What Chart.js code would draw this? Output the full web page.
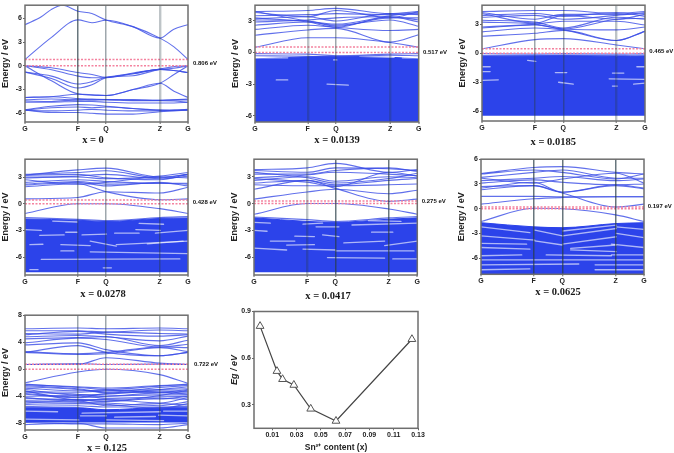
<!DOCTYPE html>
<html><head><meta charset="utf-8">
<style>html,body{margin:0;padding:0;background:#fff;width:674px;height:453px;overflow:hidden}
canvas{position:absolute}</style>
<script src="https://cdn.jsdelivr.net/npm/chart.js@4/dist/chart.umd.js"></script></head><body>
<script>
const kLabels=['G','F','Q','Z','G'];
const egContent=[0,0.0139,0.0185,0.0278,0.0417,0.0625,0.125];
const egValues=[0.806,0.517,0.465,0.428,0.275,0.197,0.722];
const egXTicks=[0.01,0.03,0.05,0.07,0.09,0.11,0.13];
const egYTicks=[0.3,0.6,0.9];

/* bands: 5 values = G,F,Q,Z,G ; 9 values include the midpoints; pairs = [k,E] */
const p1Bands=[
[[0,5.2],[0.1,6.2],[0.16,7.1],[0.23,7.65],[0.325,6.9],[0.41,6.6],[0.497,5.8],[0.66,4.95],[0.828,3.5],[0.91,4.6],[1,5.2]],
[0.8,3.6,5.8,5.45,5.75,4.95,3.5,2.4,0.8],
[0,-0.25,-0.85,-1.1,-1.45,-0.9,-0.4,-0.1,0],[0,-0.5,-1.3,-1.5,-1.5,-1.0,-0.45,-0.6,-0.85],
[-0.8,-1.3,-2.3,-2.0,-1.45,-1.0,-0.45,-0.6,-0.85],[-0.8,-1.6,-2.8,-2.4,-1.5,-1.25,-0.45,-0.3,0],
[0,-1.9,-3.55,-3.65,-3.75,-3,-2.2,-1.1,0],[-4,-3.9,-3.6,-3.7,-3.75,-3,-2.2,-3.2,-4],
[-4,-3.9,-4.15,-4.2,-4.25,-4.3,-4.35,-4.3,-4.2],[-4.3,-4.2,-4.3,-4.25,-4.25,-4.3,-4.35,-4.3,-4.3],
[-4.45,-4.5,-4.3,-4.35,-4.3,-4.4,-4.4,-4.45,-4.6],[-4.6,-4.6,-4.5,-4.5,-4.6,-4.7,-4.7,-4.7,-4.6],
[-5.55,-5.1,-4.9,-4.95,-5.1,-5.4,-5.6,-5.6,-5.55],[-5.6,-5.3,-5.2,-5.3,-5.2,-5.4,-5.6,-5.65,-5.6],
[-5.6,-5.7,-5.6,-5.5,-5.6,-5.7,-5.7,-5.6,-5.5],[-5.6,-5.9,-5.9,-6,-6.1,-6.1,-5.8,-5.7,-5.6]];
const p2Bands=[
[0.5,1.4,1.4,0.95,0.5],[1.65,2.15,2.3,1.0,1.7],[2.2,2.6,2.4,2.1,2.2],[2.6,2.9,2.6,3.1,2.5],
[3.1,3.0,2.5,3.3,3.3],[3.3,2.9,2.4,3.4,3.1],[3.9,3.0,2.7,3.5,3.8],[3.8,3.4,4.0,3.3,3.9],
[3.9,4.0,4.2,3.7,3.9],[3.5,3.6,3.7,3.6,3.7],[2.9,3.1,3.3,3.4,2.9],[3.2,3.4,3.0,3.7,3.6],
[-0.1,-0.15,-0.3,-0.15,-0.1],[-0.3,-0.35,-0.4,-0.25,-0.3]];
const p3Bands=[
[0.45,1.4,1.5,0.85,0.45],[1.75,2.05,2.35,1.3,2.25],[2.2,2.6,2.4,1.3,2.25],[2.6,2.9,2.5,2.4,2.7],
[2.7,3.0,3.3,3.3,2.9],[3.2,3.0,2.5,3.5,3.6],[3.4,3.2,2.6,3.7,3.5],[4.1,3.1,3.9,3.5,4.0],
[4.2,3.5,4.0,4.0,4.1],[4.3,4.4,4.4,4.1,4.3],[3.9,4.1,3.8,4.2,3.8],[3.7,3.9,3.5,3.9,4.2],
[-0.05,-0.1,-0.05,-0.1,-0.05],[-0.25,-0.25,-0.2,-0.25,-0.2]];
const p4Bands=[
[-1.1,0,0,-0.55,-1.1],[0.55,0.7,1.35,1.2,1.85],[1.9,2.25,1.35,0.45,0.55],[2.2,2.5,2.2,2.3,2.2],
[2.4,2.7,2.5,2.3,2.3],[3.2,3.8,4.0,3,3.3],[3.3,3.5,3.7,2.9,3.3],[2.9,3.1,3.3,2.8,3.1],
[3,3,2.8,3.1,3.5],[2.7,2.2,2.4,3,2.9],[2.1,2.4,2.0,2.4,2.0],[3.2,3.3,2.9,2.7,3.3],
[-1.55,-1.75,-1.9,-1.55,-1.45]];
const p5Bands=[
[-1.2,0,0,-0.6,-1.2],[0.5,1.3,1.6,1.1,1.5],[1.6,2.6,1.7,0.25,0.5],[3.8,4.0,4.5,3.5,3.8],
[3.7,3.5,4.0,3.9,3.7],[3.3,3.3,3.7,4.0,3.6],[2.9,3.2,3.5,3.3,3.1],[2.6,3,2.5,3,2.9],
[2.3,2.6,2.1,2.6,2.8],[2.1,2.0,2.0,2.1,2.2],[3.5,2.9,2.3,2.8,3.4],[2.8,2.4,1.9,3.5,3.1],
[-1.5,-1.8,-2,-1.6,-1.45]];
const p6Bands=[
[-1.55,0.05,0,-0.75,-1.55],[0.55,1.2,1.35,1.45,1.45],[2.7,2.8,1.9,0.2,0.55],[4.25,5,5.1,4.4,4.2],
[4.2,4.7,4.4,3.6,4.2],[3.8,4.4,4.7,3.7,3.7],[3.4,3.7,3.9,3.4,3.6],[3.1,3.5,3.2,2.9,3],
[2.5,3.2,2.0,2.9,2.5],[2.3,2.8,2.0,2.8,2.4],[3.7,3.1,3.6,4.3,3.1],[1.5,1.5,1.45,1.45,1.45]];
const p7Bands=[
[-2.0,-0.4,0,-0.8,-2.1],[0.7,0.7,1.7,0.9,0.7],[0.7,0.85,0.7,0.75,0.7],[6,6.1,6,6.1,6],
[5.7,5.7,5.5,5.8,5.7],[5.1,5.6,5.2,4.9,5.1],[4.8,5,4.8,4.2,4.9],[4.5,4.7,4.8,3.5,4.3],
[3.9,4.6,4.4,3.3,3.7],[3.6,3.9,2.9,2.0,2.5],[2.5,3.5,2.5,2,2.5],[2.6,2.3,2.5,3.3,3.2],
[2.5,2.2,2.3,3.2,2.6],[5.3,5.2,5.5,5.3,5.2],
[-2.2,-2.7,-3.0,-2.5,-2.2],[-2.4,-2.9,-3.4,-2.7,-2.4],[-2.6,-3,-3.5,-3,-2.6],[-2.8,-3.2,-3.1,-3.4,-3.0],
[-3,-3.8,-3.7,-3.2,-3.3],[-3.4,-3.7,-4,-3.5,-3.5],[-3.7,-4.2,-4.0,-3.8,-3.8],[-4,-3.9,-4.3,-4.1,-4],
[-4.3,-4.5,-4.5,-5,-4.2],[-4.6,-4.5,-4.8,-4.3,-4.5],[-4.8,-4.9,-5.0,-5.4,-4.8],[-5.2,-5.1,-5.2,-5.8,-5.1],
[-5.5,-5.4,-5.6,-5.6,-5.5],[-3.2,-4.6,-4.7,-3.9,-3.1],[-8.2,-8,-8.7,-8.7,-8.2],[-7.9,-8.1,-8.1,-8.2,-8],
[-2.3,-2.6,-2.8,-2.4,-2.3],[-3.3,-3.4,-3.2,-3.0,-2.9],[-3.6,-4.1,-3.6,-3.4,-3.7],[-4.2,-4.7,-4.4,-4.4,-4.0],
[-5,-4.7,-5.4,-5.1,-5.3]];

/* filled valence manifold: top edge at G,F,Q,Z,G */
const p2Top=[-0.6,-0.4,-0.35,-0.45,-0.6];
const p3Top=[-0.35,-0.3,-0.25,-0.35,-0.3];
const p4Top=[-1.7,-1.85,-2.0,-1.65,-1.6];
const p5Top=[-1.6,-2,-2.1,-1.75,-1.6];
const p6Top=[-1.7,-2.2,-2.3,-1.8,-1.7];
const p7Top=[-5.7,-5.7,-6,-5.7,-5.7];

/* thin white gaps in the manifold: [kStart,kEnd,eStart,eEnd] */
const p2Gaps=[[0,0.2,-0.5,-0.5],[0.64,0.85,-0.35,-0.45],[0.9,1,-0.5,-0.5],[0.44,0.57,-3.0,-3.1],[0.13,0.2,-2.6,-2.6],[0.48,0.5,-0.7,-0.7]];
const p3Gaps=[[0,0.05,-1.4,-1.4],[0.95,1,-1.4,-1.4],[0,0.05,-1.9,-1.9],[0.45,0.52,-2,-2],[0.8,0.87,-2.05,-2.05],[0,0.1,-2.8,-2.75],[0.78,1,-2.65,-2.7],[0.47,0.56,-3,-3.2],[0.8,0.83,-3.4,-3.4],[0.93,1,-3.2,-3.1],[0.28,0.33,-0.75,-0.85]];
const p4Gaps=[[0.09,0.24,-3.55,-3.5],[0.17,0.32,-1.95,-2.05],[0.03,0.11,-4.6,-4.55],[0.4,0.56,-4.2,-4.75],[0.56,1,-4.6,-4.2],[0.68,0.83,-2.9,-3.0],[0.4,1,-5.4,-5.6],[0.1,0.95,-6.25,-6.2],[0.03,0.08,-7.4,-7.4],[0.48,0.53,-7.2,-7.2],[0.22,0.4,-4.6,-4.7],[0,0.1,-2.9,-3],[0.8,1,-3.3,-3.0],[0.75,0.97,-4.5,-4.2],[0.35,0.5,-3.5,-3.4],[0.55,0.7,-3.3,-3.3],[0.25,0.32,-3.2,-3.2],[0.22,0.3,-5.3,-5.3],[0.7,0.85,-2.2,-2.3]];
const p5Gaps=[[0,0.1,-2.1,-2.2],[0.3,0.42,-2.3,-2.2],[0.38,0.52,-2.6,-2.6],[0.25,0.37,-3.65,-3.7],[0,0.08,-3.0,-3.1],[0.1,0.25,-4.2,-4.2],[0.2,0.37,-4.65,-4.6],[0.42,0.52,-3.5,-3.7],[0.55,0.8,-4.4,-4.2],[0.72,0.85,-3.2,-3.2],[0.5,0.98,-5.3,-5.3],[0.45,0.8,-6.05,-6.1],[0.6,1,-2.4,-2.2],[0.7,0.9,-1.9,-2.0],[0,0.2,-5,-5.2],[0.8,1,-4.7,-4.2],[0.3,0.5,-5.1,-5.2],[0.85,1,-6.2,-6.2]];
const p6Gaps=[[0,0.3,-2.2,-2.9],[0,0.33,-3.3,-3.8],[0,0.28,-4.2,-4.3],[0,0.3,-4.7,-4.9],[0.33,0.5,-2.6,-3.3],[0.33,0.5,-3.9,-4.4],[0.5,0.83,-3.3,-2.4],[0.5,0.83,-4.3,-3.4],[0.55,0.83,-4.8,-4.4],[0.83,1,-2.2,-2.5],[0.83,1,-3.0,-3.5],[0.8,1,-4.3,-4.7],[0.5,0.83,-2.7,-2.0],[0.55,0.83,-5,-5.2],[0,1,-6.2,-6.2],[0,0.6,-6.8,-6.7],[0,0.3,-7.4,-7.3],[0.7,1,-6.8,-6.8],[0,0.25,-5.7,-5.6],[0.8,1,-5.6,-5.6],[0.7,1,-7.4,-7.4],[0.4,0.8,-5.6,-5.7]];
const p7Gaps=[[0.35,0.83,-6.5,-6.3],[0.5,0.85,-7.5,-7.6],[0,0.33,-7.4,-7.5],[0.82,1,-6.8,-6.9],[0.34,0.5,-6.9,-6.9],[0.55,0.8,-7.1,-7.0],[0,0.2,-6.2,-6.3],[0.85,1,-6.2,-6.2]];

/* vertical path lines (F,Q,Z) as [width, opacity] */
const DARK=[1.5,0.7],MID=[1.5,0.45],LIGHT=[2.4,0.3];
const panels=[
{cap:'x = 0',gap:'0.806 eV',gapE:0.806,labelE:0.35,kS:[0.325,0.497,0.828],yT:[-6,-3,0,3,6],yR:[-7.1,7.66],box:[25,2,188,122],capX:93,capY:140,lblX:193,bands:p1Bands,v:[DARK,MID,LIGHT]},
{cap:'x = 0.0139',gap:'0.517 eV',gapE:0.517,labelE:0.05,kS:[0.322,0.495,0.825],yT:[-6,-3,0,3],yR:[-6.6,4.5],box:[255,2,418.7,122],capX:337,capY:140,lblX:423,bands:p2Bands,top:p2Top,bottom:-6.6,gaps:p2Gaps,v:[LIGHT,MID,LIGHT]},
{cap:'x = 0.0185',gap:'0.465 eV',gapE:0.465,labelE:0.2,kS:[0.325,0.499,0.825],yT:[-6,-3,0,3],yR:[-7,4.95],box:[481.7,2,644.7,121],capX:553,capY:142,lblX:649,bands:p3Bands,top:p3Top,bottom:-6.45,gaps:p3Gaps,v:[MID,MID,LIGHT]},
{cap:'x = 0.0278',gap:'0.428 eV',gapE:0.428,labelE:0.2,kS:[0.324,0.497,0.826],yT:[-6,-3,0,3],yR:[-8,5],box:[25,156,188,275],capX:103,capY:294,lblX:192.7,bands:p4Bands,top:p4Top,bottom:-7.7,gaps:p4Gaps,v:[MID,MID,MID]},
{cap:'x = 0.0417',gap:'0.275 eV',gapE:0.275,labelE:0.2,kS:[0.325,0.498,0.825],yT:[-6,-3,0,3],yR:[-8,4.97],box:[254,156,417.3,275],capX:328,capY:296,lblX:421.7,bands:p5Bands,top:p5Top,bottom:-7.7,gaps:p5Gaps,v:[LIGHT,DARK,DARK]},
{cap:'x = 0.0625',gap:'0.197 eV',gapE:0.197,labelE:0.25,kS:[0.323,0.499,0.826],yT:[-6,-3,0,3,6],yR:[-7.95,6],box:[481,156,644,274.3],capX:558,capY:292,lblX:647.7,bands:p6Bands,top:p6Top,bottom:-7.95,gaps:p6Gaps,v:[DARK,DARK,DARK]},
{cap:'x = 0.125',gap:'0.722 eV',gapE:0.722,labelE:0.72,kS:[0.324,0.497,0.826],yT:[-8,-4,0,4,8],yR:[-9,8],box:[25,312,188,430],capX:107,capY:448,lblX:194,bands:p7Bands,top:p7Top,bottom:-7.9,gaps:p7Gaps,v:[MID,MID,MID]}
];

const BLUE='rgba(58,76,230,0.8)',BLOCK='#2c43ea',SANS='"Liberation Sans",Arial,sans-serif',SERIF='"Liberation Serif",serif';
const framePlugin={id:'frame',afterDraw(c){const a=c.chartArea,x=c.ctx;x.save();x.strokeStyle='#6e6e6e';x.lineWidth=1.5;x.strokeRect(a.left,a.top,a.right-a.left,a.bottom-a.top);
 const t=c.options.plugins.frame||{};
 if(t.gap){x.fillStyle='#111';x.font='bold 6px '+SANS;x.textBaseline='middle';x.textAlign='left';x.fillText(t.gap,t.lblX-t.originX,c.scales.y.getPixelForValue(t.labelE));}
 if(t.cap){x.fillStyle='#1a1a1a';x.font='bold 10.5px '+SERIF;x.textBaseline='middle';x.textAlign='center';x.fillText(t.cap,t.capX-t.originX,t.capY-t.originY);}
 x.restore();}};

function makeCanvas(l,t,w,h){const c=document.createElement('canvas');c.style.left=l+'px';c.style.top=t+'px';c.style.width=w+'px';c.style.height=h+'px';c.width=w;c.height=h;document.body.appendChild(c);return c;}

function bandPanel(p){
 const [L,T,R,B]=p.box,[F,Q,Z]=p.kS,left=L-25,top=T-2,w=Math.round(R-left+30),h=Math.round(B-top+30);
 const k5=[0,F,Q,Z,1],k9=[0,F/2,F,(F+Q)/2,Q,(Q+Z)/2,Z,(Z+1)/2,1];
 const pts=a=>a.map((v,i)=>Array.isArray(v)?{x:v[0],y:v[1]}:{x:(a.length===9?k9:k5)[i],y:v});
 const vStyle=i=>(i>=1&&i<=3)?p.v[i-1]:[0,0];
 const ds=[];
 if(p.top)ds.push({data:pts(p.top),borderColor:BLOCK,backgroundColor:BLOCK,borderWidth:1,fill:{value:p.bottom},order:10,cubicInterpolationMode:'monotone'});
 (p.gaps||[]).forEach(g=>ds.push({data:[{x:g[0],y:g[2]},{x:g[1],y:g[3]}],borderColor:'rgba(255,255,255,0.62)',borderWidth:1.3,borderCapStyle:'round',order:9}));
 p.bands.forEach(b=>ds.push({data:pts(b),borderColor:BLUE,borderWidth:1.1,order:8,cubicInterpolationMode:'monotone'}));
 [0,p.gapE].forEach(e=>ds.push({data:[{x:0,y:e},{x:1,y:e}],borderColor:'#f4829f',borderWidth:1.5,borderDash:[2,1.5],order:1}));
 new Chart(makeCanvas(left,top,w,h),{type:'line',data:{datasets:ds},plugins:[framePlugin],options:{
  animation:false,responsive:false,parsing:{xAxisKey:'x',yAxisKey:'y'},
  layout:{padding:{left:0,top:T-top,right:w-(R-left),bottom:0}},
  elements:{point:{radius:0}},
  plugins:{legend:{display:false},tooltip:{enabled:false},frame:{gap:p.gap,labelE:p.labelE,lblX:p.lblX,cap:p.cap,capX:p.capX,capY:p.capY,originX:left,originY:top}},
  scales:{
   x:{type:'linear',min:0,max:1,afterBuildTicks:s=>{s.ticks=k5.map(v=>({value:v}));},afterFit:s=>{s.height=h-(B-top);},
      grid:{z:1,color:c=>'rgba(40,60,70,'+vStyle(c.index)[1]+')',lineWidth:c=>vStyle(c.index)[0],tickColor:'#666',tickWidth:1,drawTicks:true,tickLength:2},border:{display:false},
      ticks:{autoSkip:false,maxRotation:0,padding:1,color:'#222',font:{family:SANS,weight:'bold',size:7},callback:(v,i)=>kLabels[i]}},
   y:{type:'linear',min:p.yR[0],max:p.yR[1],afterBuildTicks:s=>{s.ticks=p.yT.map(v=>({value:v}));},afterFit:s=>{s.width=25;},
      grid:{drawOnChartArea:false,drawTicks:true,tickLength:2,color:'#666'},border:{display:false},
      title:{display:true,text:'Energy / eV',color:'#222',font:{family:SANS,weight:'bold',size:9},padding:0},
      ticks:{padding:1,color:'#222',font:{family:SANS,weight:'bold',size:7}}}
  }}});
}
panels.forEach(bandPanel);

/* Eg versus Sn content */
(function(){
 const L=254.3,T=309,R=418.3,B=428.3,left=L-25,top=T-3,w=Math.round(R-left+12),h=Math.round(B-top+25);
 new Chart(makeCanvas(left,top,w,h),{type:'line',data:{datasets:[{data:egContent.map((v,i)=>({x:v,y:egValues[i]})),borderColor:'#444',borderWidth:1.2,pointStyle:'triangle',pointRadius:4.5,pointBackgroundColor:'#fff',pointBorderColor:'#555',pointBorderWidth:1,clip:false}]},plugins:[framePlugin],options:{
  animation:false,responsive:false,
  layout:{padding:{left:0,top:T-top,right:w-(R-left),bottom:0}},
  plugins:{legend:{display:false},tooltip:{enabled:false}},
  scales:{
   x:{type:'linear',min:-0.005,max:0.13,afterBuildTicks:s=>{s.ticks=egXTicks.map(v=>({value:v}));},afterFit:s=>{s.height=h-(B-top);},
      grid:{drawOnChartArea:false,drawTicks:true,tickLength:2,color:'#666'},border:{display:false},
      title:{display:true,text:'Sn²⁺ content (x)',color:'#222',font:{family:SANS,weight:'bold',size:8.5},padding:{top:2,bottom:0}},
      ticks:{autoSkip:false,maxRotation:0,padding:1,color:'#222',font:{family:SANS,weight:'bold',size:7},callback:v=>v.toFixed(2)}},
   y:{type:'linear',min:0.15,max:0.9,afterBuildTicks:s=>{s.ticks=egYTicks.map(v=>({value:v}));},afterFit:s=>{s.width=25;},
      grid:{drawOnChartArea:false,drawTicks:true,tickLength:2,color:'#666'},border:{display:false},
      title:{display:true,text:'Eg / eV',color:'#222',font:{family:SANS,weight:'bold',style:'italic',size:9},padding:0},
      ticks:{padding:1,color:'#222',font:{family:SANS,weight:'bold',size:7},callback:v=>v.toFixed(1)}}
  }}});
})();
</script></body></html>
